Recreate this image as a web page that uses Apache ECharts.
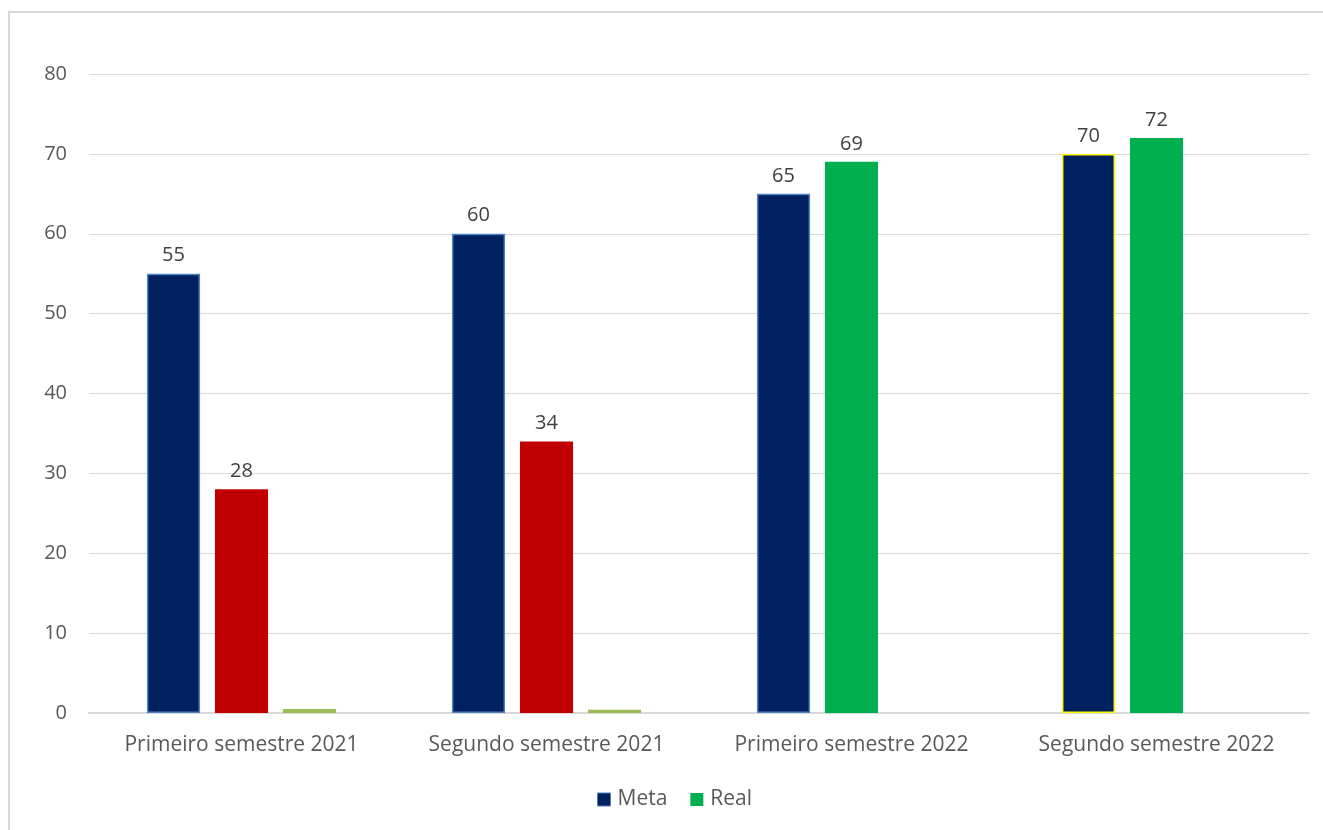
<!DOCTYPE html>
<html>
<head>
<meta charset="utf-8">
<script src="https://cdn.jsdelivr.net/npm/echarts@6/dist/echarts.min.js"></script>
<style>
html,body{margin:0;padding:0;background:#fff;}
#chart{width:1323px;height:830px;}
</style>
</head>
<body>
<div id="chart"></div>
<script>
var categories = ['Primeiro semestre 2021', 'Segundo semestre 2021', 'Primeiro semestre 2022', 'Segundo semestre 2022'];
var metaValues = [55, 60, 65, 70];
var realValues = [28, 34, 69, 72];
var realColors = ['#c00000', '#c00000', '#00b050', '#00b050'];
var metaBorders = ['#4f81bd', '#4f81bd', '#4f81bd', '#ffff00'];
var extraValues = [0.5, 0.4, 0, 0];

var font = '"Open Sans", "Noto Sans", sans-serif';
var myChart = echarts.init(document.getElementById('chart'));

var option = {
    animation: false,
    textStyle: { fontFamily: font },
    graphic: [{
        type: 'rect',
        shape: { x: 9, y: 12, width: 1400, height: 900 },
        style: { fill: 'none', stroke: '#d9d9d9', lineWidth: 2 },
        silent: true
    }],
    grid: { left: 89, right: 14, top: 74, bottom: 117 },
    legend: {
        bottom: 15,
        left: 592,
        data: [
            { name: 'Meta', itemStyle: { color: '#002060', borderColor: '#4f81bd', borderWidth: 1 } },
            { name: 'Real', itemStyle: { color: '#00b050' } }
        ],
        icon: 'rect',
        itemWidth: 13,
        itemHeight: 13,
        itemGap: 23,
        textStyle: { fontSize: 21, color: '#595959', fontFamily: font, padding: [0, 0, 0, 2] }
    },
    xAxis: {
        type: 'category',
        data: categories,
        axisLine: { lineStyle: { color: '#d9d9d9', width: 2 } },
        axisTick: { show: false },
        axisLabel: { interval: 0, fontSize: 21, color: '#595959', margin: 22 }
    },
    yAxis: {
        type: 'value',
        min: 0,
        max: 80,
        interval: 10,
        axisLine: { show: false },
        axisTick: { show: false },
        splitLine: { lineStyle: { color: '#d9d9d9', width: 1 } },
        axisLabel: { fontSize: 20, color: '#595959', margin: 22 }
    },
    series: [
        {
            name: 'Meta',
            type: 'bar',
            barCategoryGap: '38%',
            barGap: '28%',
            data: metaValues.map(function (v, i) {
                return { value: v, itemStyle: { borderColor: metaBorders[i] } };
            }),
            itemStyle: { color: '#002060', borderWidth: 1.5 },
            label: { show: true, position: 'top', distance: 8, fontSize: 20, color: '#404040' }
        },
        {
            name: 'Real',
            type: 'bar',
            data: realValues.map(function (v, i) {
                return { value: v, itemStyle: { color: realColors[i] } };
            }),
            label: { show: true, position: 'top', distance: 8, fontSize: 20, color: '#404040' }
        },
        {
            name: 'Extra',
            type: 'bar',
            data: extraValues,
            itemStyle: { color: '#9bbb59' },
            label: { show: false }
        }
    ]
};
myChart.setOption(option);
</script>
</body>
</html>
